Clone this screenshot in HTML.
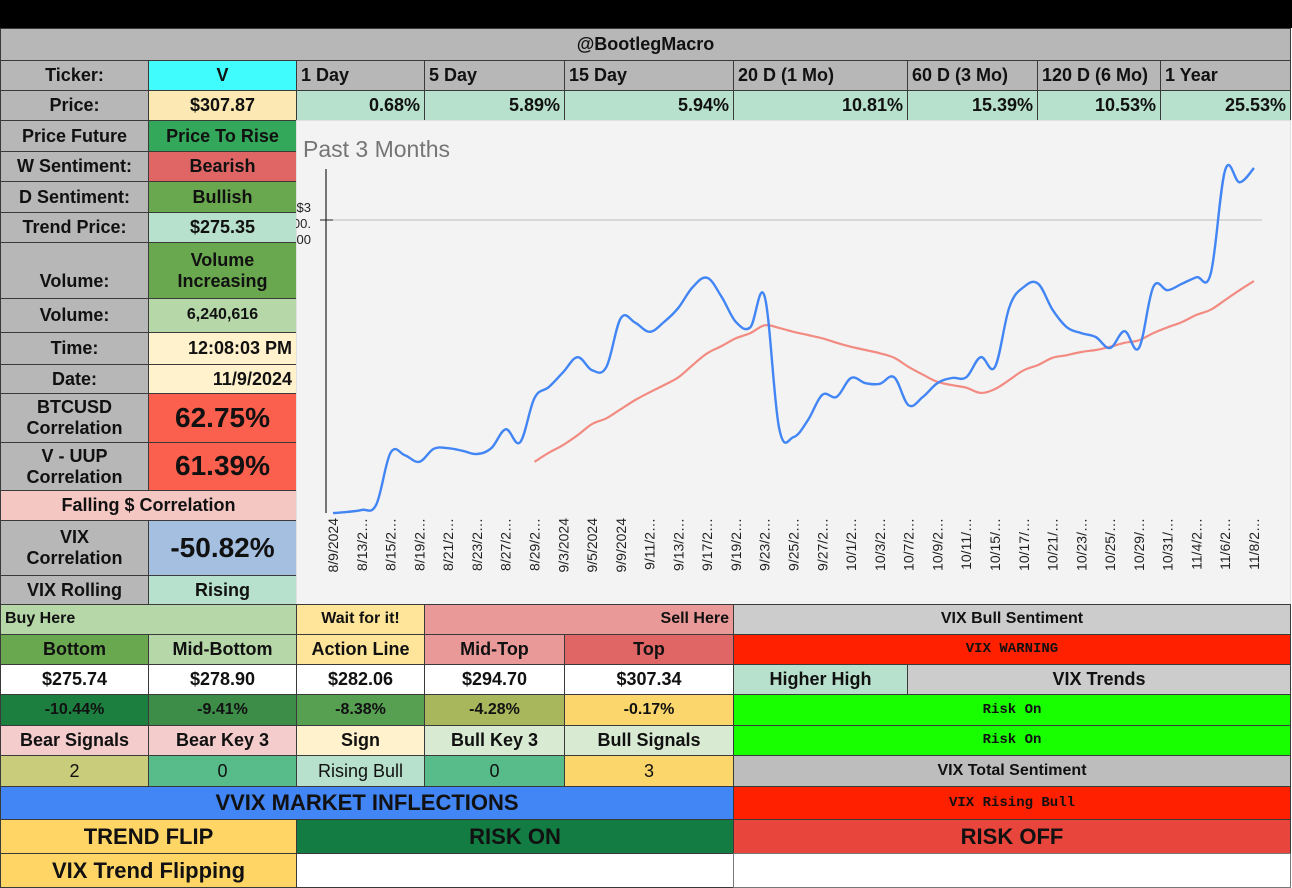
<!DOCTYPE html>
<html><head><meta charset="utf-8">
<style>
body{margin:0;width:1292px;height:888px;background:#fff;position:relative;overflow:hidden;font-family:"Liberation Sans",Arial,sans-serif;}
.c{position:absolute;box-sizing:border-box;border:1px solid #3a3a3a;display:flex;align-items:center;justify-content:center;font-weight:bold;font-size:18px;color:#111;text-align:center;line-height:1.15;}
.l{justify-content:flex-start;padding-left:4px}
.r{justify-content:flex-end;padding-right:4px}
.m{font-family:"Liberation Mono",monospace;font-size:14px;font-weight:bold}
</style></head><body>
<div style="position:absolute;left:0;top:0;width:1292px;height:28px;background:#000"></div>
<div class="c" style="left:0;top:28px;width:1291px;height:33px;background:#b7b7b7">@BootlegMacro</div>
<div class="c" style="left:0;top:60px;width:149px;height:31px;background:#b7b7b7">Ticker:</div>
<div class="c" style="left:148px;top:60px;width:149px;height:31px;background:#40fcfc">V</div>
<div class="c l" style="left:296px;top:60px;width:129px;height:31px;background:#b7b7b7">1 Day</div>
<div class="c l" style="left:424px;top:60px;width:141px;height:31px;background:#b7b7b7">5 Day</div>
<div class="c l" style="left:564px;top:60px;width:170px;height:31px;background:#b7b7b7">15 Day</div>
<div class="c l" style="left:733px;top:60px;width:175px;height:31px;background:#b7b7b7">20 D (1 Mo)</div>
<div class="c l" style="left:907px;top:60px;width:131px;height:31px;background:#b7b7b7">60 D (3 Mo)</div>
<div class="c l" style="left:1037px;top:60px;width:124px;height:31px;background:#b7b7b7">120 D (6 Mo)</div>
<div class="c l" style="left:1160px;top:60px;width:131px;height:31px;background:#b7b7b7">1 Year</div>
<div class="c" style="left:0;top:90px;width:149px;height:31px;background:#b7b7b7">Price:</div>
<div class="c" style="left:148px;top:90px;width:149px;height:31px;background:#fce8b2">$307.87</div>
<div class="c r" style="left:296px;top:90px;width:129px;height:31px;background:#b7e1cd">0.68%</div>
<div class="c r" style="left:424px;top:90px;width:141px;height:31px;background:#b7e1cd">5.89%</div>
<div class="c r" style="left:564px;top:90px;width:170px;height:31px;background:#b7e1cd">5.94%</div>
<div class="c r" style="left:733px;top:90px;width:175px;height:31px;background:#b7e1cd">10.81%</div>
<div class="c r" style="left:907px;top:90px;width:131px;height:31px;background:#b7e1cd">15.39%</div>
<div class="c r" style="left:1037px;top:90px;width:124px;height:31px;background:#b7e1cd">10.53%</div>
<div class="c r" style="left:1160px;top:90px;width:131px;height:31px;background:#b7e1cd">25.53%</div>

<div class="c" style="left:0;top:120px;width:149px;height:32px;background:#b7b7b7">Price Future</div>
<div class="c" style="left:148px;top:120px;width:149px;height:32px;background:#34a85a">Price To Rise</div>
<div class="c" style="left:0;top:151px;width:149px;height:31px;background:#b7b7b7">W Sentiment:</div>
<div class="c" style="left:148px;top:151px;width:149px;height:31px;background:#e06666">Bearish</div>
<div class="c" style="left:0;top:181px;width:149px;height:32px;background:#b7b7b7">D Sentiment:</div>
<div class="c" style="left:148px;top:181px;width:149px;height:32px;background:#6aa84f">Bullish</div>
<div class="c" style="left:0;top:212px;width:149px;height:31px;background:#b7b7b7">Trend Price:</div>
<div class="c" style="left:148px;top:212px;width:149px;height:31px;background:#b7e1cd">$275.35</div>
<div class="c" style="left:0;top:242px;width:149px;height:57px;background:#b7b7b7;align-items:flex-end;padding-bottom:6px">Volume:</div>
<div class="c" style="left:148px;top:242px;width:149px;height:57px;background:#6aa84f">Volume<br>Increasing</div>
<div class="c" style="left:0;top:298px;width:149px;height:35px;background:#b7b7b7">Volume:</div>
<div class="c" style="left:148px;top:298px;width:149px;height:35px;background:#b6d7a8;font-size:16px">6,240,616</div>
<div class="c" style="left:0;top:332px;width:149px;height:33px;background:#b7b7b7">Time:</div>
<div class="c r" style="left:148px;top:332px;width:149px;height:33px;background:#fff2cc">12:08:03 PM</div>
<div class="c" style="left:0;top:364px;width:149px;height:30px;background:#b7b7b7">Date:</div>
<div class="c r" style="left:148px;top:364px;width:149px;height:30px;background:#fff2cc">11/9/2024</div>
<div class="c" style="left:0;top:393px;width:149px;height:50px;background:#b7b7b7">BTCUSD<br>Correlation</div>
<div class="c" style="left:148px;top:393px;width:149px;height:50px;background:#fb5f4e;font-size:28px">62.75%</div>
<div class="c" style="left:0;top:442px;width:149px;height:49px;background:#b7b7b7">V - UUP<br>Correlation</div>
<div class="c" style="left:148px;top:442px;width:149px;height:49px;background:#fb5f4e;font-size:28px">61.39%</div>
<div class="c" style="left:0;top:490px;width:297px;height:31px;background:#f4c7c3">Falling $ Correlation</div>
<div class="c" style="left:0;top:520px;width:149px;height:56px;background:#b7b7b7">VIX<br>Correlation</div>
<div class="c" style="left:148px;top:520px;width:149px;height:56px;background:#a4bfe0;font-size:28px">-50.82%</div>
<div class="c" style="left:0;top:575px;width:149px;height:30px;background:#b7b7b7">VIX Rolling</div>
<div class="c" style="left:148px;top:575px;width:149px;height:30px;background:#b7e1cd">Rising</div>

<svg id="chart" style="position:absolute;left:296px;top:120px" width="995" height="485" viewBox="0 0 995 485"></svg>

<div class="c l" style="left:0;top:604px;width:297px;height:31px;background:#b6d7a8;font-size:16px">Buy Here</div>
<div class="c" style="left:296px;top:604px;width:129px;height:31px;background:#ffe599;font-size:16px">Wait for it!</div>
<div class="c r" style="left:424px;top:604px;width:310px;height:31px;background:#ea9999;font-size:16px">Sell Here</div>
<div class="c" style="left:0;top:634px;width:149px;height:31px;background:#6aa84f">Bottom</div>
<div class="c" style="left:148px;top:634px;width:149px;height:31px;background:#b6d7a8">Mid-Bottom</div>
<div class="c" style="left:296px;top:634px;width:129px;height:31px;background:#ffe599">Action Line</div>
<div class="c" style="left:424px;top:634px;width:141px;height:31px;background:#ea9999">Mid-Top</div>
<div class="c" style="left:564px;top:634px;width:170px;height:31px;background:#e06666">Top</div>
<div class="c" style="left:0;top:664px;width:149px;height:31px;background:#fff">$275.74</div>
<div class="c" style="left:148px;top:664px;width:149px;height:31px;background:#fff">$278.90</div>
<div class="c" style="left:296px;top:664px;width:129px;height:31px;background:#fff">$282.06</div>
<div class="c" style="left:424px;top:664px;width:141px;height:31px;background:#fff">$294.70</div>
<div class="c" style="left:564px;top:664px;width:170px;height:31px;background:#fff">$307.34</div>
<div class="c" style="left:0;top:694px;width:149px;height:32px;background:#1d7f3f;font-size:16px">-10.44%</div>
<div class="c" style="left:148px;top:694px;width:149px;height:32px;background:#3d8c48;font-size:16px">-9.41%</div>
<div class="c" style="left:296px;top:694px;width:129px;height:32px;background:#57a052;font-size:16px">-8.38%</div>
<div class="c" style="left:424px;top:694px;width:141px;height:32px;background:#a8b75b;font-size:16px">-4.28%</div>
<div class="c" style="left:564px;top:694px;width:170px;height:32px;background:#fad66c;font-size:16px">-0.17%</div>
<div class="c" style="left:0;top:725px;width:149px;height:31px;background:#f4cccc">Bear Signals</div>
<div class="c" style="left:148px;top:725px;width:149px;height:31px;background:#f4cccc">Bear Key 3</div>
<div class="c" style="left:296px;top:725px;width:129px;height:31px;background:#fff2cc">Sign</div>
<div class="c" style="left:424px;top:725px;width:141px;height:31px;background:#d9ead3">Bull Key 3</div>
<div class="c" style="left:564px;top:725px;width:170px;height:31px;background:#d9ead3">Bull Signals</div>
<div class="c" style="left:0;top:755px;width:149px;height:32px;background:#c9cc7a;font-weight:normal">2</div>
<div class="c" style="left:148px;top:755px;width:149px;height:32px;background:#57bb8a;font-weight:normal">0</div>
<div class="c" style="left:296px;top:755px;width:129px;height:32px;background:#b7e1cd;font-weight:normal">Rising Bull</div>
<div class="c" style="left:424px;top:755px;width:141px;height:32px;background:#57bb8a;font-weight:normal">0</div>
<div class="c" style="left:564px;top:755px;width:170px;height:32px;background:#fbd66b;font-weight:normal">3</div>
<div class="c" style="left:0;top:786px;width:734px;height:34px;background:#4285f4;font-size:22px">VVIX MARKET INFLECTIONS</div>
<div class="c" style="left:0;top:819px;width:297px;height:35px;background:#ffd666;font-size:22px">TREND FLIP</div>
<div class="c" style="left:296px;top:819px;width:438px;height:35px;background:#127c42;font-size:22px">RISK ON</div>
<div class="c" style="left:0;top:853px;width:297px;height:35px;background:#ffd666;font-size:22px">VIX Trend Flipping</div>
<div class="c" style="left:296px;top:853px;width:438px;height:35px;background:#fff"></div>

<div class="c" style="left:733px;top:604px;width:558px;height:31px;background:#cccccc;font-size:16px">VIX Bull Sentiment</div>
<div class="c m" style="left:733px;top:634px;width:558px;height:31px;background:#ff2000">VIX WARNING</div>
<div class="c" style="left:733px;top:664px;width:175px;height:31px;background:#b7e1cd">Higher High</div>
<div class="c" style="left:907px;top:664px;width:384px;height:31px;background:#cccccc">VIX Trends</div>
<div class="c m" style="left:733px;top:694px;width:558px;height:32px;background:#18ff00">Risk On</div>
<div class="c m" style="left:733px;top:725px;width:558px;height:31px;background:#18ff00">Risk On</div>
<div class="c" style="left:733px;top:755px;width:558px;height:32px;background:#bdbdbd;font-size:16px">VIX Total Sentiment</div>
<div class="c m" style="left:733px;top:786px;width:558px;height:34px;background:#ff2000">VIX Rising Bull</div>
<div class="c" style="left:733px;top:819px;width:558px;height:35px;background:#e8453c;font-size:22px">RISK OFF</div>
<div class="c" style="left:733px;top:853px;width:558px;height:35px;background:#fff;border-color:#777"></div>

<script>
const dates = ["8/9/2024","8/12/2024","8/13/2024","8/14/2024","8/15/2024","8/16/2024","8/19/2024","8/20/2024","8/21/2024","8/22/2024","8/23/2024","8/26/2024","8/27/2024","8/28/2024","8/29/2024","8/30/2024","9/3/2024","9/4/2024","9/5/2024","9/6/2024","9/9/2024","9/10/2024","9/11/2024","9/12/2024","9/13/2024","9/16/2024","9/17/2024","9/18/2024","9/19/2024","9/20/2024","9/23/2024","9/24/2024","9/25/2024","9/26/2024","9/27/2024","9/30/2024","10/1/2024","10/2/2024","10/3/2024","10/4/2024","10/7/2024","10/8/2024","10/9/2024","10/10/2024","10/11/2024","10/14/2024","10/15/2024","10/16/2024","10/17/2024","10/18/2024","10/21/2024","10/22/2024","10/23/2024","10/24/2024","10/25/2024","10/28/2024","10/29/2024","10/30/2024","10/31/2024","11/1/2024","11/4/2024","11/5/2024","11/6/2024","11/7/2024","11/8/2024"];
const xTickLabels = ["8/9/2024","8/13/2…","8/15/2…","8/19/2…","8/21/2…","8/23/2…","8/27/2…","8/29/2…","9/3/2024","9/5/2024","9/9/2024","9/11/2…","9/13/2…","9/17/2…","9/19/2…","9/23/2…","9/25/2…","9/27/2…","10/1/2…","10/3/2…","10/7/2…","10/9/2…","10/11/…","10/15/…","10/17/…","10/21/…","10/23/…","10/25/…","10/29/…","10/31/…","11/4/2…","11/6/2…","11/8/2…"];
const priceSeries = [254.9,255.1,255.4,256.2,264.2,263.8,262.8,264.8,264.9,264.5,264.0,264.9,267.8,265.8,272.6,274.3,276.6,278.9,276.9,277.4,284.9,284.2,282.8,284.3,286.5,289.7,291.1,288.2,284.3,283.5,288.2,268.0,266.6,269.2,273.1,272.8,275.7,274.9,274.8,275.8,271.5,272.8,274.9,275.7,275.8,278.9,277.4,286.6,289.7,290.2,286.2,283.5,282.6,282.0,280.3,282.9,280.3,289.7,289.2,290.2,291.2,291.8,307.7,305.8,308.0];
const maSeries = [null,null,null,null,null,null,null,null,null,null,null,null,null,null,262.8,264.2,265.4,266.9,268.6,269.5,270.9,272.3,273.5,274.6,275.8,277.7,279.5,280.6,281.8,282.6,283.8,283.4,282.8,282.3,281.8,281.1,280.5,280.0,279.5,278.8,277.4,276.2,275.1,274.6,274.2,273.4,274.0,275.4,276.9,277.7,278.8,279.2,279.7,280.0,280.5,281.1,281.5,282.6,283.5,284.3,285.4,286.2,287.7,289.2,290.6];
const yTicks = [300];
const yTickLabels = ["$300.00"];

const svg = document.getElementById('chart');
const NS = 'http://www.w3.org/2000/svg';
const X0 = 37, X1 = 958, Y300 = 100, PXPER = 6.5;
function xs(i){ return X0 + i*(X1-X0)/(dates.length-1); }
function ys(v){ return Y300 - (v-300)*PXPER; }
function mk(tag, attrs, parent){ const e=document.createElementNS(NS,tag); for(const k in attrs) e.setAttribute(k,attrs[k]); (parent||svg).appendChild(e); return e; }

const bg = mk('rect',{x:0,y:0,width:995,height:485,fill:'#f3f3f3',stroke:'#ccc'});


const title = mk('text',{x:7,y:37,'font-size':23,fill:'#757575','font-family':'Liberation Sans, sans-serif'});
title.textContent='Past 3 Months';



yTicks.forEach((t,k)=>{
  const g = mk('line',{x1:24,x2:966,y1:ys(t),y2:ys(t),stroke:'#bdbdbd','stroke-width':1});
  
  
  const tm = mk('line',{x1:24,x2:37,y1:ys(t),y2:ys(t),stroke:'#222','stroke-width':1});
  
  
  const lab = yTickLabels[k];
  const parts = [lab.slice(0,2), lab.slice(2,5), lab.slice(5)];
  parts.forEach((p,j)=>{
    const tx = mk('text',{x:15,y:ys(t)-12+j*16+4,'font-size':13,fill:'#222','text-anchor':'end','font-family':'Liberation Sans, sans-serif'});
    tx.textContent=p;
    
    
  });
});
const yAxis = mk('line',{x1:30,x2:30,y1:49,y2:393,stroke:'#222','stroke-width':1.2});



xTickLabels.forEach((lab,k)=>{
  const x = xs(k*2)+5, y = 398;
  const tx = mk('text',{x:x,y:y,'font-size':14,fill:'#222','text-anchor':'end','font-family':'Liberation Sans, sans-serif',transform:`rotate(-90 ${x} ${y})`});
  tx.textContent=lab;
  
  
});

function smoothPath(vals){
  const pts=[]; vals.forEach((v,i)=>{ if(v!==null) pts.push([xs(i),ys(v)]); });
  let d='M'+pts[0][0].toFixed(1)+','+pts[0][1].toFixed(1);
  for(let i=0;i<pts.length-1;i++){
    const p0=pts[Math.max(0,i-1)],p1=pts[i],p2=pts[i+1],p3=pts[Math.min(pts.length-1,i+2)];
    const t=0.18;
    const c1=[p1[0]+(p2[0]-p0[0])*t,p1[1]+(p2[1]-p0[1])*t];
    const c2=[p2[0]-(p3[0]-p1[0])*t,p2[1]-(p3[1]-p1[1])*t];
    d+=` C${c1[0].toFixed(1)},${c1[1].toFixed(1)} ${c2[0].toFixed(1)},${c2[1].toFixed(1)} ${p2[0].toFixed(1)},${p2[1].toFixed(1)}`;
  }
  return d;
}
const ma = mk('path',{d:smoothPath(maSeries),fill:'none',stroke:'#f28b82','stroke-width':2.2});


const price = mk('path',{d:smoothPath(priceSeries),fill:'none',stroke:'#4285f4','stroke-width':2.4});


</script>
</body></html>
